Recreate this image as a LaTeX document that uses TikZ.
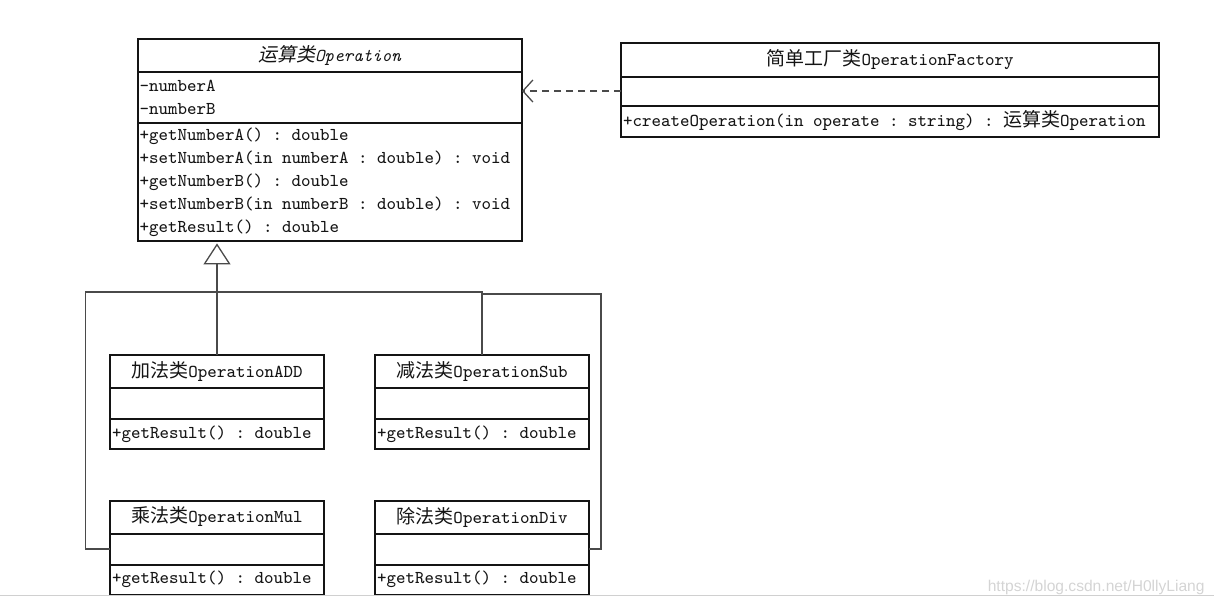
\documentclass[tikz,border=0pt]{standalone}
\usepackage{fontspec}
\usepackage{xcolor}
\usepackage{tikz}
\usetikzlibrary{positioning,arrows.meta}
\newfontfamily\cjk[Scale=1.05]{Noto Sans CJK SC}
\newfontfamily\cjkit[Scale=1.05,FakeSlant=0.2]{Noto Sans CJK SC}
\newfontfamily\wmfont{Liberation Sans}
\newcommand{\zh}[1]{{\cjk #1}}
\definecolor{ink}{HTML}{141414}
\definecolor{wire}{HTML}{4A4A4A}
\definecolor{mark}{HTML}{D4D4D4}
\definecolor{rule}{HTML}{D0D0D0}

\begin{document}
\begin{tikzpicture}[x=0.5pt,y=-0.5pt,
  node distance=0pt,
  cell/.style={draw=ink,line width=1pt,outer sep=0pt,inner xsep=1pt,inner ysep=0pt,
               font=\ttfamily\fontsize{9.05}{11.5}\selectfont,text=ink,
               execute at begin node={\frenchspacing\spaceskip=4.75pt\relax}},
  opw/.style={cell,text width=190.25pt},
  facw/.style={cell,text width=267pt},
  subw/.style={cell,text width=105pt},
  wire/.style={draw=wire,line width=0.65pt},
  dep/.style={wire,dash pattern=on 3.5pt off 2.5pt,-{Straight Barb[length=5pt,width=11pt]}},
  inh/.style={wire,-{Triangle[open,length=10.5pt,width=13.5pt]},shorten >=1.2pt}]
  \useasboundingbox (0,0) rectangle (1214,606);

  \node[opw,align=center,minimum height=16.5pt,anchor=north west] (opT) at (137.5,39) {{\cjkit 运算类}\textit{Operation}};
  \node[opw,align=left,minimum height=25.5pt,below=of opT] (opA) {-numberA\\-numberB};
  \node[opw,align=left,minimum height=59pt,below=of opA] (opM) {+getNumberA() : double\\+setNumberA(in numberA : double) : void\\+getNumberB() : double\\+setNumberB(in numberB : double) : void\\+getResult() : double};

  \node[facw,align=center,minimum height=17pt,anchor=north west] (facT) at (621,42.5) {\zh{简单工厂类}OperationFactory};
  \node[facw,minimum height=14.5pt,below=of facT] (facE) {};
  \node[facw,align=left,minimum height=15.5pt,below=of facE] (facM) {+createOperation(in operate : string) : \zh{运算类}Operation};

  \node[subw,align=center,minimum height=16.5pt,anchor=north west] (addT) at (110,355) {\zh{加法类}OperationADD};
  \node[subw,minimum height=15.5pt,below=of addT] (addE) {};
  \node[subw,align=left,minimum height=15pt,below=of addE] (addM) {+getResult() : double};

  \node[subw,align=center,minimum height=16.5pt,right=25.5pt of addT] (subT) {\zh{减法类}OperationSub};
  \node[subw,minimum height=15.5pt,below=of subT] (subE) {};
  \node[subw,align=left,minimum height=15pt,below=of subE] (subM) {+getResult() : double};

  \node[subw,align=center,minimum height=16.5pt,below=25.75pt of addM] (mulT) {\zh{乘法类}OperationMul};
  \node[subw,minimum height=15.5pt,below=of mulT] (mulE) {};
  \node[subw,align=left,minimum height=15pt,below=of mulE] (mulM) {+getResult() : double};

  \node[subw,align=center,minimum height=16.5pt,below=25.75pt of subM] (divT) {\zh{除法类}OperationDiv};
  \node[subw,minimum height=15.5pt,below=of divT] (divE) {};
  \node[subw,align=left,minimum height=15pt,below=of divE] (divM) {+getResult() : double};

  \coordinate (busL) at (85.7,292);
  \coordinate (busR) at (601,294);
  \draw[dep] (facE.west) -- (facE.west -| opA.east);
  \draw[inh] (addT.north) -- (addT.north |- opM.south);
  \draw[wire] (mulE.west) -| (busL) -| (subT.north);
  \draw[wire] (divE.east) -| (busR) -| (subT.north);

  \draw[rule,line width=0.5pt] (0,595.7) -- (1214,595.7);
  \node[font=\wmfont\fontsize{7.8}{9}\selectfont,text=mark,anchor=base east,inner sep=0pt] (wm) at (1205,591.5) {https://blog.csdn.net/H0llyLiang};
\end{tikzpicture}
\end{document}
